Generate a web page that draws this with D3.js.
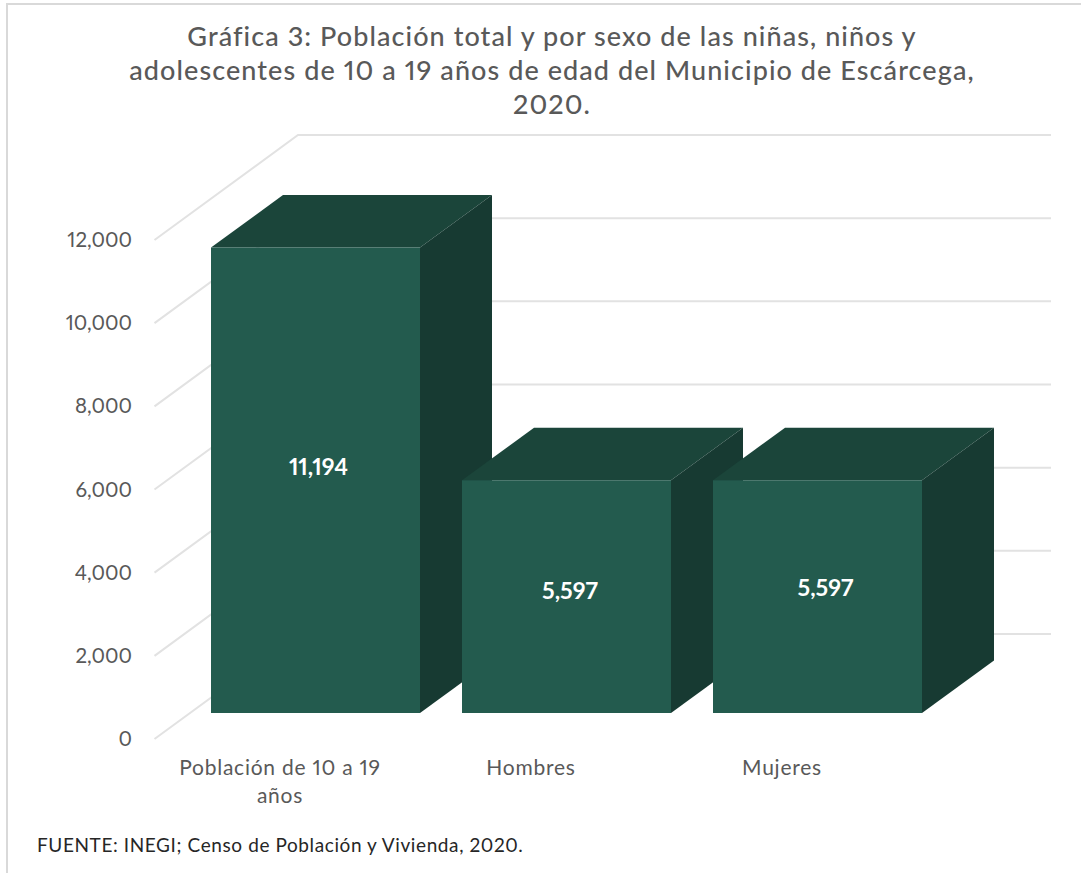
<!DOCTYPE html>
<html>
<head>
<meta charset="utf-8">
<script src="https://cdnjs.cloudflare.com/ajax/libs/d3/7.8.5/d3.min.js"></script>
<style>
  html, body { margin: 0; padding: 0; background: #fff; }
  svg { display: block; }
  text { font-family: Lato, "Noto Sans", sans-serif; font-variant-numeric: proportional-nums; }
</style>
</head>
<body>
<div id="chart"></div>
<script>
// data
const categories = ['Población de 10 a 19 años', 'Hombres', 'Mujeres'];
const categoryLines = [['Población de 10 a 19', 'años'], ['Hombres'], ['Mujeres']];
const values = [11194, 5597, 5597];
const valueLabels = ['11,194', '5,597', '5,597'];
const yTicks = [0, 2000, 4000, 6000, 8000, 10000, 12000];
const titleLines = [
  'Gráfica 3: Población total y por sexo de las niñas, niños y',
  'adolescentes de 10 a 19 años de edad del Municipio de Escárcega,',
  '2020.'
];
const sourceText = 'FUENTE: INEGI; Censo de Población y Vivienda, 2020.';

const width = 1081, height = 873;

// 3d look: how far the back wall and a bar's depth are shifted
const wallDx = 143.5, wallDy = -105;
const barDx = 72, barDy = -52.5;
const floorDx = 35.5, floorDy = -26;

const svg = d3.select('#chart').append('svg')
  .attr('width', width)
  .attr('height', height);

// chart frame
svg.append('rect')
  .attr('x', 7).attr('y', 4)
  .attr('width', 1090).attr('height', 900)
  .attr('fill', '#fff')
  .attr('stroke', '#d9d9d9')
  .attr('stroke-width', 2);

// scales
const y = d3.scaleLinear().domain([0, 12000]).range([739, 240]);
const x = d3.scaleBand().domain(categories).range([154.5, 907.5])
  .paddingInner(42 / 251).paddingOuter(21 / 251);

// grid, side wall + back wall
const grid = svg.append('g').attr('fill', 'none').attr('stroke', '#e2e2e2').attr('stroke-width', 2);
grid.selectAll('path').data(yTicks).join('path')
  .attr('d', d => {
    const p = d3.path();
    p.moveTo(154.5, y(d));
    p.lineTo(154.5 + wallDx, y(d) + wallDy);
    p.lineTo(1051, y(d) + wallDy);
    return p.toString();
  });

// axis labels
const yAxis = svg.append('g')
  .attr('transform', 'translate(132,0)')
  .call(d3.axisLeft(y).tickValues(yTicks).tickSize(0).tickPadding(0).tickFormat(d3.format(',')));
yAxis.select('.domain').remove();
yAxis.selectAll('text').attr('font-size', 20.5).attr('fill', '#595959');

// bars
const bars = svg.append('g').selectAll('g').data(categories).join('g');

function barX(d) { return x(d) + floorDx; }
function barTop(i) { return y(values[i]) + floorDy; }
function barBase() { return y(0) + floorDy; }

function poly(points) { return d3.line()(points); }

bars.append('path')
  .attr('fill', '#1b453a')
  .attr('d', (d, i) => {
    const x0 = barX(d), x1 = x0 + x.bandwidth(), t = barTop(i);
    return poly([[x0, t], [x0 + barDx, t + barDy], [x1 + barDx, t + barDy], [x1, t]]) + 'Z';
  });
bars.append('path')
  .attr('fill', '#173a32')
  .attr('d', (d, i) => {
    const x1 = barX(d) + x.bandwidth(), t = barTop(i), b = barBase();
    return poly([[x1, t], [x1 + barDx, t + barDy], [x1 + barDx, b + barDy], [x1, b]]) + 'Z';
  });
bars.append('rect')
  .attr('fill', '#235b4e')
  .attr('x', d => barX(d))
  .attr('y', (d, i) => barTop(i))
  .attr('width', x.bandwidth())
  .attr('height', (d, i) => barBase() - barTop(i));

// value labels, hand placed like in the original
const labelY = [467, 591, 588];
const labelDx = [3, 3.5, 8];
bars.append('text')
  .attr('x', (d, i) => barX(d) + x.bandwidth() / 2 + labelDx[i])
  .attr('y', (d, i) => labelY[i])
  .attr('dy', '0.35em')
  .attr('text-anchor', 'middle')
  .attr('font-size', 23)
  .attr('font-weight', 700)
  .attr('fill', '#fff')
  .text((d, i) => valueLabels[i]);

// category labels
svg.append('g').selectAll('text').data(categories).join('text')
  .attr('text-anchor', 'middle')
  .attr('font-size', 21)
  .attr('letter-spacing', 0.75)
  .attr('fill', '#595959')
  .attr('y', 775)
  .each(function (d, i) {
    d3.select(this).selectAll('tspan').data(categoryLines[i]).join('tspan')
      .attr('x', x(d) + x.bandwidth() / 2)
      .attr('dy', (l, j) => j ? 28 : 0)
      .text(l => l);
  });

// title
svg.append('g').selectAll('text').data(titleLines).join('text')
  .attr('x', 552)
  .attr('y', (d, i) => 46 + i * 34)
  .attr('text-anchor', 'middle')
  .attr('font-size', 27)
  .attr('font-weight', 500)
  .attr('letter-spacing', 1.07)
  .attr('fill', '#595959')
  .text(d => d);

// source
svg.append('text')
  .attr('x', 37).attr('y', 852)
  .attr('font-size', 19)
  .attr('letter-spacing', 0.6)
  .attr('fill', '#262626')
  .text(sourceText);
</script>
</body>
</html>
